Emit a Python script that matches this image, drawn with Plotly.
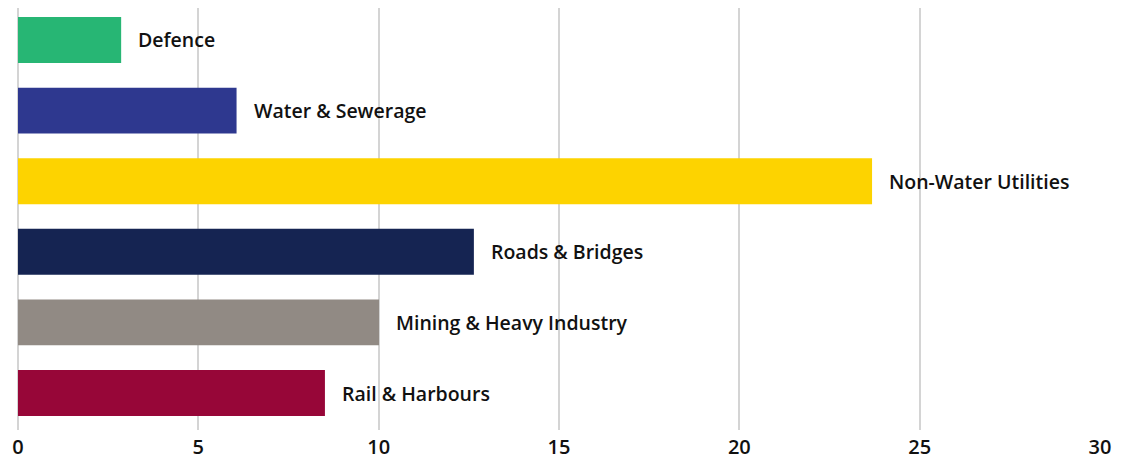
import plotly.graph_objects as go

# categorías y valores (de arriba hacia abajo)
categorias = ["Defence", "Water & Sewerage", "Non-Water Utilities",
              "Roads & Bridges", "Mining & Heavy Industry", "Rail & Harbours"]
valores = [2.86, 6.06, 23.68, 12.64, 10.01, 8.51]
colores = ["#27b674", "#2e388f", "#fdd300", "#152452", "#918a84", "#970638"]
ticks_x = [0, 5, 10, 15, 20, 25, 30]

fig = go.Figure()
fig.add_trace(go.Bar(
    x=valores,
    y=categorias,
    orientation="h",
    marker=dict(color=colores, line=dict(width=0)),
    width=0.65,
    hoverinfo="x+y",
))

# etiquetas a la derecha de cada barra
for cat, val in zip(categorias, valores):
    fig.add_annotation(
        x=val, y=cat, text=cat, showarrow=False,
        xanchor="left", xshift=15,
        font=dict(family="Open Sans", size=19.5, color="#111111", weight=600),
    )

# el body del html tiene 8px de margen, lo compenso acá
fig.update_layout(
    width=1105, height=454,
    margin=dict(l=10, r=13, t=0, b=32, autoexpand=False),
    plot_bgcolor="white", paper_bgcolor="white",
    showlegend=False,
    font=dict(family="Open Sans", size=19, color="#111111"),
    xaxis=dict(
        range=[0, 30], tickvals=ticks_x, showgrid=True,
        gridcolor="#d4d4d4", gridwidth=2, zeroline=True,
        zerolinecolor="#d4d4d4", zerolinewidth=2,
        showline=False, ticks="", automargin=False,
        ticklabelstandoff=3,
        tickfont=dict(size=20, weight=600),
    ),
    yaxis=dict(
        range=[5.524, -0.453], showticklabels=False, showgrid=False,
        zeroline=False, showline=False, automargin=False,
    ),
)

fig.write_html("out.html")
